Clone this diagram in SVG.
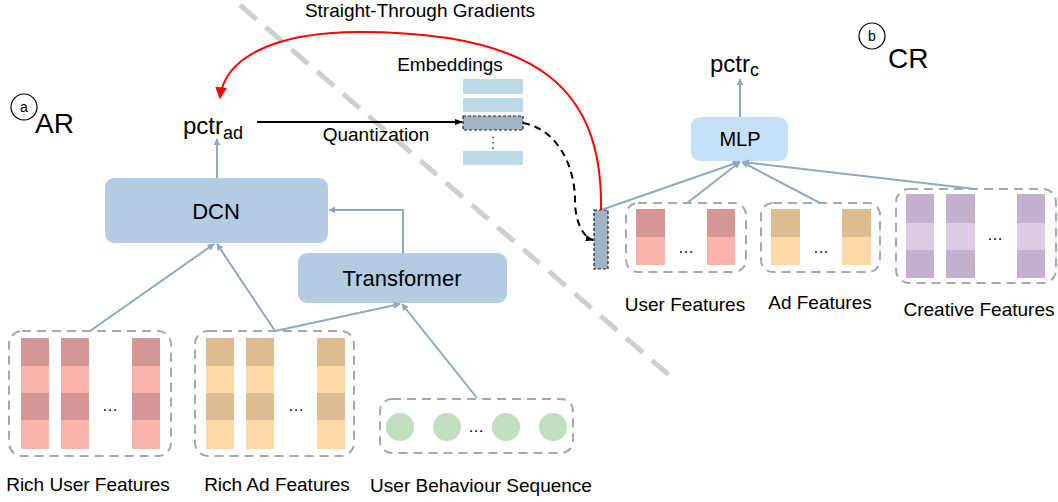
<svg xmlns="http://www.w3.org/2000/svg" width="1058" height="502" viewBox="0 0 1058 502">
<style>
text{font-family:"Liberation Sans",Arial,sans-serif;fill:#000}
.lbl{font-size:19px}
.box{fill:#b4cce2}
.grp{fill:none;stroke:#a8a8a8;stroke-width:2;stroke-dasharray:9 6}
.con{fill:none;stroke:#8fa8c4;stroke-width:2}
.ud{fill:#d49793}.ul{fill:#fbb3ad}
.ad{fill:#dcbc90}.al{fill:#fed8a5}
.cd{fill:#c4b1cd}.cl{fill:#dccbe3}
.emb{fill:#bed9e6}
.sel{fill:#9fb5c4;stroke:#222;stroke-width:1.2;stroke-dasharray:3 2}
.dots{font-size:16px}
</style>
<defs>
<marker id="ab" viewBox="0 0 10 10" refX="9" refY="5" markerWidth="7" markerHeight="7" markerUnits="userSpaceOnUse" orient="auto"><path d="M0,0L10,5L0,10z" fill="#8fa8c4"/></marker>
<marker id="ak" viewBox="0 0 10 10" refX="9" refY="5" markerWidth="8" markerHeight="8" markerUnits="userSpaceOnUse" orient="auto"><path d="M0,1L10,5L0,9z" fill="#000"/></marker>
<marker id="ar" viewBox="0 0 10 10" refX="9" refY="5" markerWidth="12" markerHeight="12" markerUnits="userSpaceOnUse" orient="auto"><path d="M0,0L10,5L0,10z" fill="#ff0000"/></marker>
</defs>

<line x1="240" y1="5" x2="669" y2="375" stroke="#cfcfcf" stroke-width="5" stroke-dasharray="22 12"/>

<g id="label-a"><circle cx="24" cy="107" r="13" fill="none" stroke="#000" stroke-width="1.2"/><text x="24" y="112" font-size="14" text-anchor="middle">a</text><text x="35" y="133" font-size="28">AR</text></g>
<g id="label-b"><circle cx="872" cy="36" r="13" fill="none" stroke="#000" stroke-width="1.2"/><text x="872" y="41" font-size="14" text-anchor="middle">b</text><text x="888" y="68" font-size="28">CR</text></g>

<g id="stg"><text class="lbl" x="420" y="17" text-anchor="middle">Straight-Through Gradients</text></g>
<g id="pctr-ad"><text x="183" y="134" font-size="24">pctr<tspan font-size="18" dy="5">ad</tspan></text></g>
<g id="quant-label"><text class="lbl" x="376" y="141" text-anchor="middle">Quantization</text></g>

<g id="embeddings">
<text class="lbl" x="450" y="71" text-anchor="middle">Embeddings</text>
<rect class="emb" x="463" y="79" width="60" height="15"/>
<rect class="emb" x="463" y="98" width="60" height="14"/>
<rect class="sel" x="463" y="116" width="60" height="14"/>
<line x1="493" y1="137" x2="493" y2="150" stroke="#000" stroke-width="1.3" stroke-dasharray="1.3 4"/>
<rect class="emb" x="463" y="151" width="60" height="14"/>
</g>

<g id="dcn"><rect class="box" x="105" y="178" width="223" height="65" rx="9"/><text x="216" y="219" font-size="22" text-anchor="middle">DCN</text></g>
<g id="transformer"><rect class="box" x="298" y="253" width="209" height="50" rx="9"/><text x="402" y="286" font-size="22" text-anchor="middle">Transformer</text></g>

<g id="rich-user">
<rect class="grp" x="9" y="331" width="162" height="125" rx="13"/>
<g>
<rect class="ud" x="21" y="338" width="28" height="28"/><rect class="ul" x="21" y="366" width="28" height="27"/><rect class="ud" x="21" y="393" width="28" height="27"/><rect class="ul" x="21" y="420" width="28" height="29"/>
<rect class="ud" x="61" y="338" width="28" height="28"/><rect class="ul" x="61" y="366" width="28" height="27"/><rect class="ud" x="61" y="393" width="28" height="27"/><rect class="ul" x="61" y="420" width="28" height="29"/>
<rect class="ud" x="132" y="338" width="28" height="28"/><rect class="ul" x="132" y="366" width="28" height="27"/><rect class="ud" x="132" y="393" width="28" height="27"/><rect class="ul" x="132" y="420" width="28" height="29"/>
</g>
<text class="dots" x="110" y="411" text-anchor="middle">…</text>
<text class="lbl" x="88" y="491" text-anchor="middle">Rich User Features</text>
</g>

<g id="rich-ad">
<rect class="grp" x="195" y="331" width="159" height="125" rx="13"/>
<rect class="ad" x="206" y="338" width="28" height="28"/><rect class="al" x="206" y="366" width="28" height="27"/><rect class="ad" x="206" y="393" width="28" height="27"/><rect class="al" x="206" y="420" width="28" height="29"/>
<rect class="ad" x="246" y="338" width="28" height="28"/><rect class="al" x="246" y="366" width="28" height="27"/><rect class="ad" x="246" y="393" width="28" height="27"/><rect class="al" x="246" y="420" width="28" height="29"/>
<rect class="ad" x="317" y="338" width="28" height="28"/><rect class="al" x="317" y="366" width="28" height="27"/><rect class="ad" x="317" y="393" width="28" height="27"/><rect class="al" x="317" y="420" width="28" height="29"/>
<text class="dots" x="296" y="411" text-anchor="middle">…</text>
<text class="lbl" x="277" y="491" text-anchor="middle">Rich Ad Features</text>
</g>

<g id="behaviour">
<rect class="grp" x="380" y="399" width="193" height="54" rx="12"/>
<circle cx="400" cy="427" r="14" fill="#c0e0bd"/><circle cx="447" cy="427" r="14" fill="#c0e0bd"/><circle cx="506" cy="427" r="14" fill="#c0e0bd"/><circle cx="553" cy="427" r="14" fill="#c0e0bd"/>
<text class="dots" x="476" y="432" text-anchor="middle">…</text>
<text class="lbl" x="481" y="492" text-anchor="middle">User Behaviour Sequence</text>
</g>

<g id="pctr-c"><text x="710" y="72" font-size="24">pctr<tspan font-size="18" dy="4">c</tspan></text></g>
<g id="mlp"><rect x="691" y="117" width="97" height="44" rx="9" fill="#c5e0f7"/><text x="740" y="146" font-size="20" text-anchor="middle">MLP</text></g>

<g id="quant-vec"><rect class="sel" x="594" y="210" width="14" height="59"/></g>

<g id="user-feat">
<rect class="grp" x="626" y="203" width="120" height="69" rx="12"/>
<rect class="ud" x="636" y="209" width="29" height="28"/><rect class="ul" x="636" y="237" width="29" height="28"/>
<rect class="ud" x="707" y="209" width="28" height="28"/><rect class="ul" x="707" y="237" width="28" height="28"/>
<text class="dots" x="686" y="253" text-anchor="middle">…</text>
<text class="lbl" x="685" y="311" text-anchor="middle">User Features</text>
</g>
<g id="ad-feat">
<rect class="grp" x="761" y="203" width="119" height="69" rx="12"/>
<rect class="ad" x="771" y="209" width="29" height="28"/><rect class="al" x="771" y="237" width="29" height="28"/>
<rect class="ad" x="842" y="209" width="29" height="28"/><rect class="al" x="842" y="237" width="29" height="28"/>
<text class="dots" x="821" y="253" text-anchor="middle">…</text>
<text class="lbl" x="820" y="309" text-anchor="middle">Ad Features</text>
</g>
<g id="creative-feat">
<rect class="grp" x="896" y="189" width="160" height="94" rx="13"/>
<rect class="cd" x="906" y="194" width="28" height="29"/><rect class="cl" x="906" y="223" width="28" height="27"/><rect class="cd" x="906" y="250" width="28" height="28"/>
<rect class="cd" x="946" y="194" width="29" height="29"/><rect class="cl" x="946" y="223" width="29" height="27"/><rect class="cd" x="946" y="250" width="29" height="28"/>
<rect class="cd" x="1017" y="194" width="28" height="29"/><rect class="cl" x="1017" y="223" width="28" height="27"/><rect class="cd" x="1017" y="250" width="28" height="28"/>
<text class="dots" x="995" y="240" text-anchor="middle">…</text>
<text class="lbl" x="979" y="316" text-anchor="middle">Creative Features</text>
</g>

<g id="connectors">
<line class="con" x1="217" y1="178" x2="217" y2="139" marker-end="url(#ab)"/>
<polyline class="con" points="403,253 403,210 329,210" marker-end="url(#ab)"/>
<line class="con" x1="90" y1="331" x2="214" y2="244" marker-end="url(#ab)"/>
<line class="con" x1="275" y1="331" x2="217" y2="244" marker-end="url(#ab)"/>
<line class="con" x1="275" y1="331" x2="400" y2="304" marker-end="url(#ab)"/>
<line class="con" x1="477" y1="398" x2="402" y2="304" marker-end="url(#ab)"/>
<line class="con" x1="740" y1="117" x2="740" y2="79" marker-end="url(#ab)"/>
<line class="con" x1="601" y1="210" x2="739" y2="162" marker-end="url(#ab)"/>
<line class="con" x1="687" y1="203" x2="740" y2="162" marker-end="url(#ab)"/>
<line class="con" x1="820" y1="203" x2="742" y2="162" marker-end="url(#ab)"/>
<line class="con" x1="975" y1="189" x2="743" y2="162" marker-end="url(#ab)"/>
<line x1="257" y1="122" x2="462" y2="122" stroke="#000" stroke-width="2" marker-end="url(#ak)"/>
<path d="M523,123 C560,130 575,170 575,200 C575,225 585,238 593,240" fill="none" stroke="#000" stroke-width="2" stroke-dasharray="7 5" marker-end="url(#ak)"/>
<path d="M601,210 C603,90 540,32 360,32 C270,32 224,60 220,98" fill="none" stroke="#ff0000" stroke-width="2" marker-end="url(#ar)"/>
</g>
</svg>
